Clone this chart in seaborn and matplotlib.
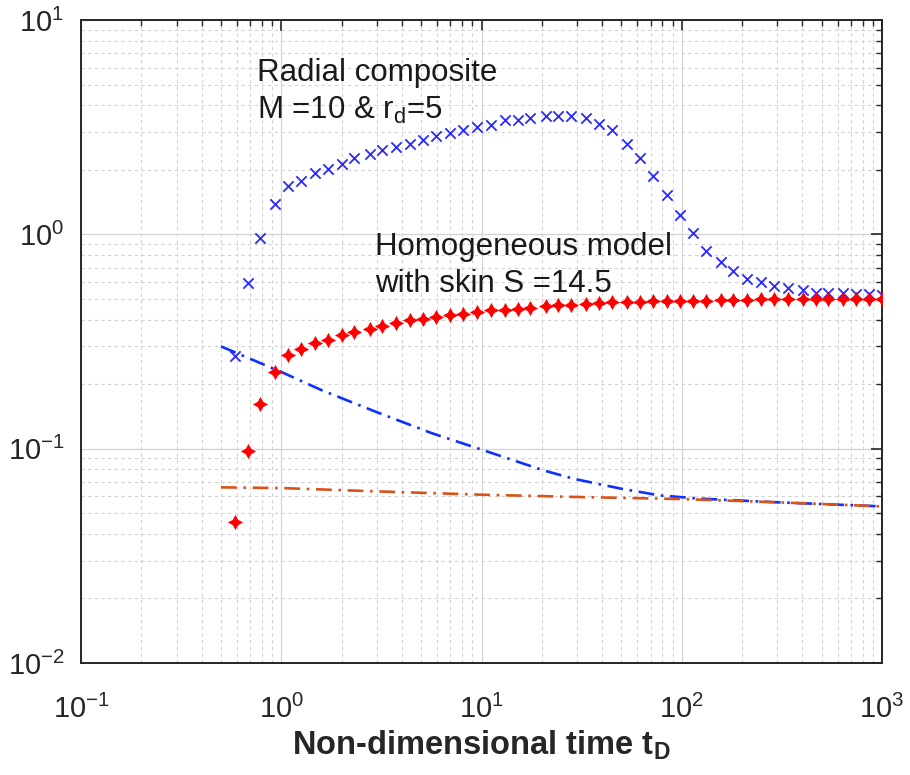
import matplotlib
matplotlib.use("Agg")
import matplotlib.pyplot as plt
import matplotlib.ticker as mticker
import seaborn as sns
import pandas as pd

# ---- data ----
t_pts = [0.59, 0.68, 0.785, 0.93, 1.08, 1.25, 1.48, 1.72, 2.01, 2.32, 2.76, 3.19,
         3.72, 4.4, 5.1, 5.95, 7.0, 8.1, 9.5, 11.2, 13.1, 15.2, 17.5, 20.9, 24.2,
         28.1, 33.2, 38.6, 45, 53, 61.8, 72, 84.5, 98, 114, 132, 157, 181, 211,
         248, 290, 338, 402, 467, 540, 637, 740, 862, 1000]
radial_composite = [0.27, 0.59, 0.96, 1.38, 1.68, 1.78, 1.93, 2.01, 2.14, 2.27, 2.36,
                    2.47, 2.55, 2.65, 2.75, 2.87, 2.97, 3.06, 3.17, 3.25, 3.41, 3.43,
                    3.50, 3.57, 3.57, 3.55, 3.50, 3.28, 3.06, 2.65, 2.26, 1.88, 1.52,
                    1.23, 1.01, 0.836, 0.743, 0.674, 0.621, 0.599, 0.574, 0.564,
                    0.552, 0.535, 0.535, 0.535, 0.528, 0.528, 0.52]
homogeneous_skin = [0.0453, 0.098, 0.161, 0.229, 0.275, 0.293, 0.311, 0.322, 0.338,
                    0.350, 0.363, 0.372, 0.385, 0.397, 0.404, 0.411, 0.419, 0.426,
                    0.434, 0.442, 0.445, 0.449, 0.453, 0.462, 0.466, 0.470, 0.475,
                    0.480, 0.483, 0.482, 0.483, 0.490, 0.490, 0.490, 0.490, 0.490,
                    0.492, 0.492, 0.495, 0.498, 0.500, 0.500, 0.500, 0.500, 0.500,
                    0.500, 0.500, 0.500, 0.500]

t_blue_line = [0.5, 1.0, 1.6, 3.0, 5.66, 10, 20.4, 28.8, 50, 78, 122, 300, 1000]
blue_line = [0.30, 0.228, 0.187, 0.148, 0.118, 0.099, 0.0792, 0.0724, 0.065, 0.0605,
             0.0585, 0.0562, 0.0538]
t_orange_line = [0.5, 1.0, 3.0, 10, 30, 100, 300, 1000]
orange_line = [0.066, 0.0655, 0.0632, 0.061, 0.0595, 0.0582, 0.0562, 0.0538]

x_label = "Non-dimensional time t$_{\\mathbf{D}}$"
text_radial = ["Radial composite", "M =10 & r$_{\\mathrm{d}}$=5"]
text_homog = ["Homogeneous model", "with skin S =14.5"]

# ---- style ----
sns.set_theme(style="white")
plt.rcParams["font.family"] = ["Liberation Sans", "DejaVu Sans"]
plt.rcParams["mathtext.fontset"] = "custom"
plt.rcParams["mathtext.rm"] = "Liberation Sans"
plt.rcParams["mathtext.it"] = "Liberation Sans:italic"
plt.rcParams["mathtext.bf"] = "Liberation Sans:bold"
plt.rcParams["axes.unicode_minus"] = False

fig = plt.figure(figsize=(9.1, 7.75), dpi=100)
ax = fig.add_axes([81 / 910, 112 / 775, 801 / 910, 643 / 775])

df_pts = pd.DataFrame({"t": t_pts, "rc": radial_composite, "hs": homogeneous_skin})
df_bl = pd.DataFrame({"t": t_blue_line, "y": blue_line})
df_ol = pd.DataFrame({"t": t_orange_line, "y": orange_line})

dashdot = (0, (6, 2.5, 1, 2.5))
sns.lineplot(data=df_bl, x="t", y="y", ax=ax, color="#1030ff", linewidth=1.9,
             linestyle=dashdot, estimator=None, sort=False, zorder=3)
sns.lineplot(data=df_ol, x="t", y="y", ax=ax, color="#D95319", linewidth=1.9,
             linestyle=dashdot, estimator=None, sort=False, zorder=3)
sns.scatterplot(data=df_pts, x="t", y="rc", ax=ax, marker="x", color="#2a2aff",
                s=55, linewidth=1.3, zorder=4)
sns.scatterplot(data=df_pts, x="t", y="hs", ax=ax, marker=(4, 1, 0), color="#ff0000",
                s=120, linewidth=0, zorder=4)

ax.set_xscale("log")
ax.set_yscale("log")
ax.set_xlim(0.1, 1000)
ax.set_ylim(0.01, 10)

ax.xaxis.set_major_locator(mticker.LogLocator(base=10, numticks=10))
ax.yaxis.set_major_locator(mticker.LogLocator(base=10, numticks=10))
ax.xaxis.set_minor_locator(mticker.LogLocator(base=10, subs=range(2, 10), numticks=20))
ax.yaxis.set_minor_locator(mticker.LogLocator(base=10, subs=range(2, 10), numticks=20))
ax.xaxis.set_minor_formatter(mticker.NullFormatter())
ax.yaxis.set_minor_formatter(mticker.NullFormatter())

ax.grid(True, which="major", color="#d4d4d4", linewidth=0.9, linestyle="-")
ax.grid(True, which="minor", color="#d2d2d2", linewidth=0.8, linestyle=(0, (3, 3)))
ax.set_axisbelow(True)

for s in ax.spines.values():
    s.set_color("#262626")
    s.set_linewidth(1.4)

ax.tick_params(which="both", direction="in", top=True, right=True, color="#262626")
ax.tick_params(which="major", length=8, width=1.2, labelsize=21, labelcolor="#262626")
ax.tick_params(which="minor", length=4, width=1.0)
ax.tick_params(axis="x", which="major", pad=23)
ax.tick_params(axis="y", which="major", pad=12)

ax.set_xlabel(x_label, fontsize=23.5, fontweight="bold", color="#262626", labelpad=3)
ax.set_ylabel("")

fs = 22.5
ax.text(0.757, 5.19, text_radial[0], fontsize=fs, color="#1a1a1a", va="baseline")
ax.text(0.757, 3.46, text_radial[1], fontsize=fs, color="#1a1a1a", va="baseline")
ax.text(2.95, 0.798, text_homog[0], fontsize=fs, color="#1a1a1a", va="baseline")
ax.text(2.95, 0.538, text_homog[1], fontsize=fs, color="#1a1a1a", va="baseline")

fig.savefig("out.png", dpi=100, facecolor="white")
